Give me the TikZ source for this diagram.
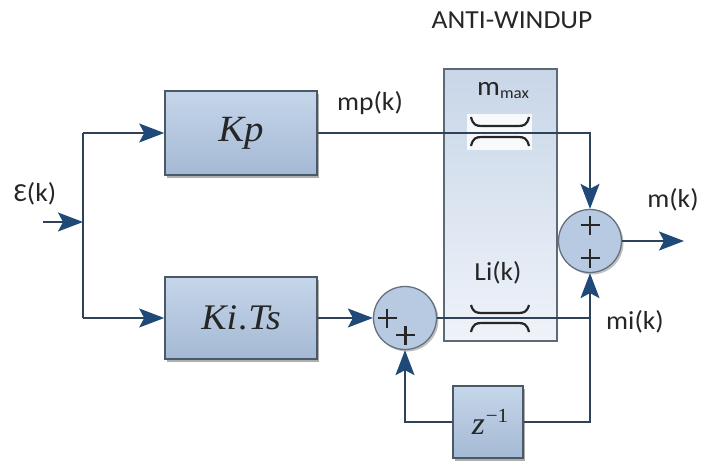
\documentclass[tikz,border=0pt]{standalone}
\usepackage{fontspec}
\setmainfont{Carlito}
\newfontfamily\labfont[FakeStretch=1.06]{Carlito}
\newfontfamily\serfont[FakeStretch=1.05]{Liberation Serif}
\usetikzlibrary{arrows.meta,shadows}
\definecolor{linec}{HTML}{2E4259}
\definecolor{arrowc}{HTML}{1F4A78}
\definecolor{boxtop}{HTML}{C6D6EA}
\definecolor{boxbot}{HTML}{A4B9D4}
\definecolor{boxedge}{HTML}{4A5868}
\definecolor{awtop}{HTML}{C8D6E8}
\definecolor{awbot}{HTML}{EFF3F9}
\definecolor{sumfill}{HTML}{B7CAE2}
\definecolor{textc}{HTML}{262626}
\tikzset{
  blk/.style={draw=boxedge, line width=1.6pt, top color=boxtop, bottom color=boxbot,
    drop shadow={shadow xshift=2pt, shadow yshift=-3pt, opacity=0.45, fill=black!70},
    inner sep=0pt, text=black!85},
  awbox/.style={draw=boxedge!90, line width=1.4pt, top color=awtop, bottom color=awbot, inner sep=0pt},
  sumc/.style={circle, draw=boxedge!85, line width=1.3pt, fill=sumfill, minimum size=63pt, inner sep=0pt,
    drop shadow={shadow xshift=2pt, shadow yshift=-2pt, opacity=0.35, fill=black!70}},
  wire/.style={draw=linec, line width=1.4pt},
  arr/.style={wire, -{Stealth[length=25pt, width=19pt, inset=5pt, color=arrowc]}},
  lab/.style={text=textc, inner sep=0pt, font=\labfont\fontsize{26}{30}\selectfont},
  plus/.style={draw=black!85, line width=2.6pt},
  sat/.style={draw=black!85, line width=2.2pt}
}
\begin{document}
\begin{tikzpicture}[x=1pt, y=-1pt]
\useasboundingbox (0,0) rectangle (702,463);
% anti-windup block
\node[awbox, minimum width=113pt, minimum height=272pt] (aw) at (500.5,205) {};
\fill[white, opacity=0.85] (467,114) rectangle (532,150);
\node[lab] (awlab) at (512,20) {ANTI-WINDUP};
\node[text=textc, inner sep=0pt] (mmax) at (503,91) {\labfont\fontsize{27}{30}\selectfont m\raisebox{-3pt}{\fontsize{16}{18}\selectfont max}};
\node[lab] (li) at (498,273) {Li(k)};
% blocks
\node[blk, minimum width=152pt, minimum height=84pt] (kp) at (241,133) {\serfont\itshape\fontsize{37}{40}\selectfont Kp};
\node[blk, minimum width=152pt, minimum height=82pt] (ki) at (241,318) {\serfont\itshape\fontsize{36}{40}\selectfont Ki\kern2pt.Ts};
\node[blk, minimum width=70pt, minimum height=72pt] (zd) at (488,422) {\serfont\fontsize{32}{34}\selectfont\kern4pt\textit{z}\raisebox{12pt}{\fontsize{20}{22}\selectfont\kern1pt −1}};
% summing junctions
\node[sumc] (s1) at (405,318) {};
\node[sumc] (s2) at (590,241) {};
\draw[plus] (377.5,318) -- (396.5,318) (387,308.5) -- (387,327.5);
\draw[plus] (396,335) -- (415,335) (405.5,325.5) -- (405.5,344.5);
\draw[plus] (580.5,225) -- (599.5,225) (590,215.5) -- (590,234.5);
\draw[plus] (580.5,258) -- (599.5,258) (590,248.5) -- (590,267.5);
% labels
\node[lab] (eps) at (35,194) {Ɛ(k)};
\node[lab] (mp) at (370,103) {mp(k)};
\node[lab] (mk) at (673,200) {m(k)};
\node[lab] (mi) at (635,322) {mi(k)};
% coordinates
\coordinate (in) at (43,222);
\coordinate (sp) at (83,222);
\coordinate (sptop) at (83,133);
\coordinate (spbot) at (83,318);
\coordinate (c1) at (590,133);
\coordinate (c2) at (590,318);
\coordinate (c3) at (590,422);
\coordinate (c4) at (405,422);
\coordinate (out) at (684,241);
% connectors
\draw[arr] (in) -- (sp);
\draw[wire] (sptop) -- (spbot);
\draw[arr] (sptop) -- (kp.west);
\draw[arr] (spbot) -- (ki.west);
\draw[arr] (kp.east) -- (c1) -- (s2.north);
\draw[arr] (ki.east) -- (s1.west);
\draw[wire] (s1.east) -- (c2);
\draw[arr] (zd.east) -- (c3) -- (s2.south);
\draw[arr] (zd.west) -- (c4) -- (s1.south);
\draw[arr] (s2.east) -- (out);
% saturation symbols
\draw[sat] (471,117) .. controls (473,125) and (476,126) .. (482,126) -- (518,126) .. controls (524,126) and (527,125) .. (529,117);
\draw[sat] (471,146) .. controls (473,138) and (476,137) .. (482,137) -- (518,137) .. controls (524,137) and (527,138) .. (529,146);
\draw[sat] (471,305) .. controls (473,312) and (476,313) .. (482,313) -- (518,313) .. controls (524,313) and (527,312) .. (529,305);
\draw[sat] (471,332) .. controls (473,324) and (476,323) .. (482,323) -- (518,323) .. controls (524,323) and (527,324) .. (529,332);
\end{tikzpicture}
\end{document}
